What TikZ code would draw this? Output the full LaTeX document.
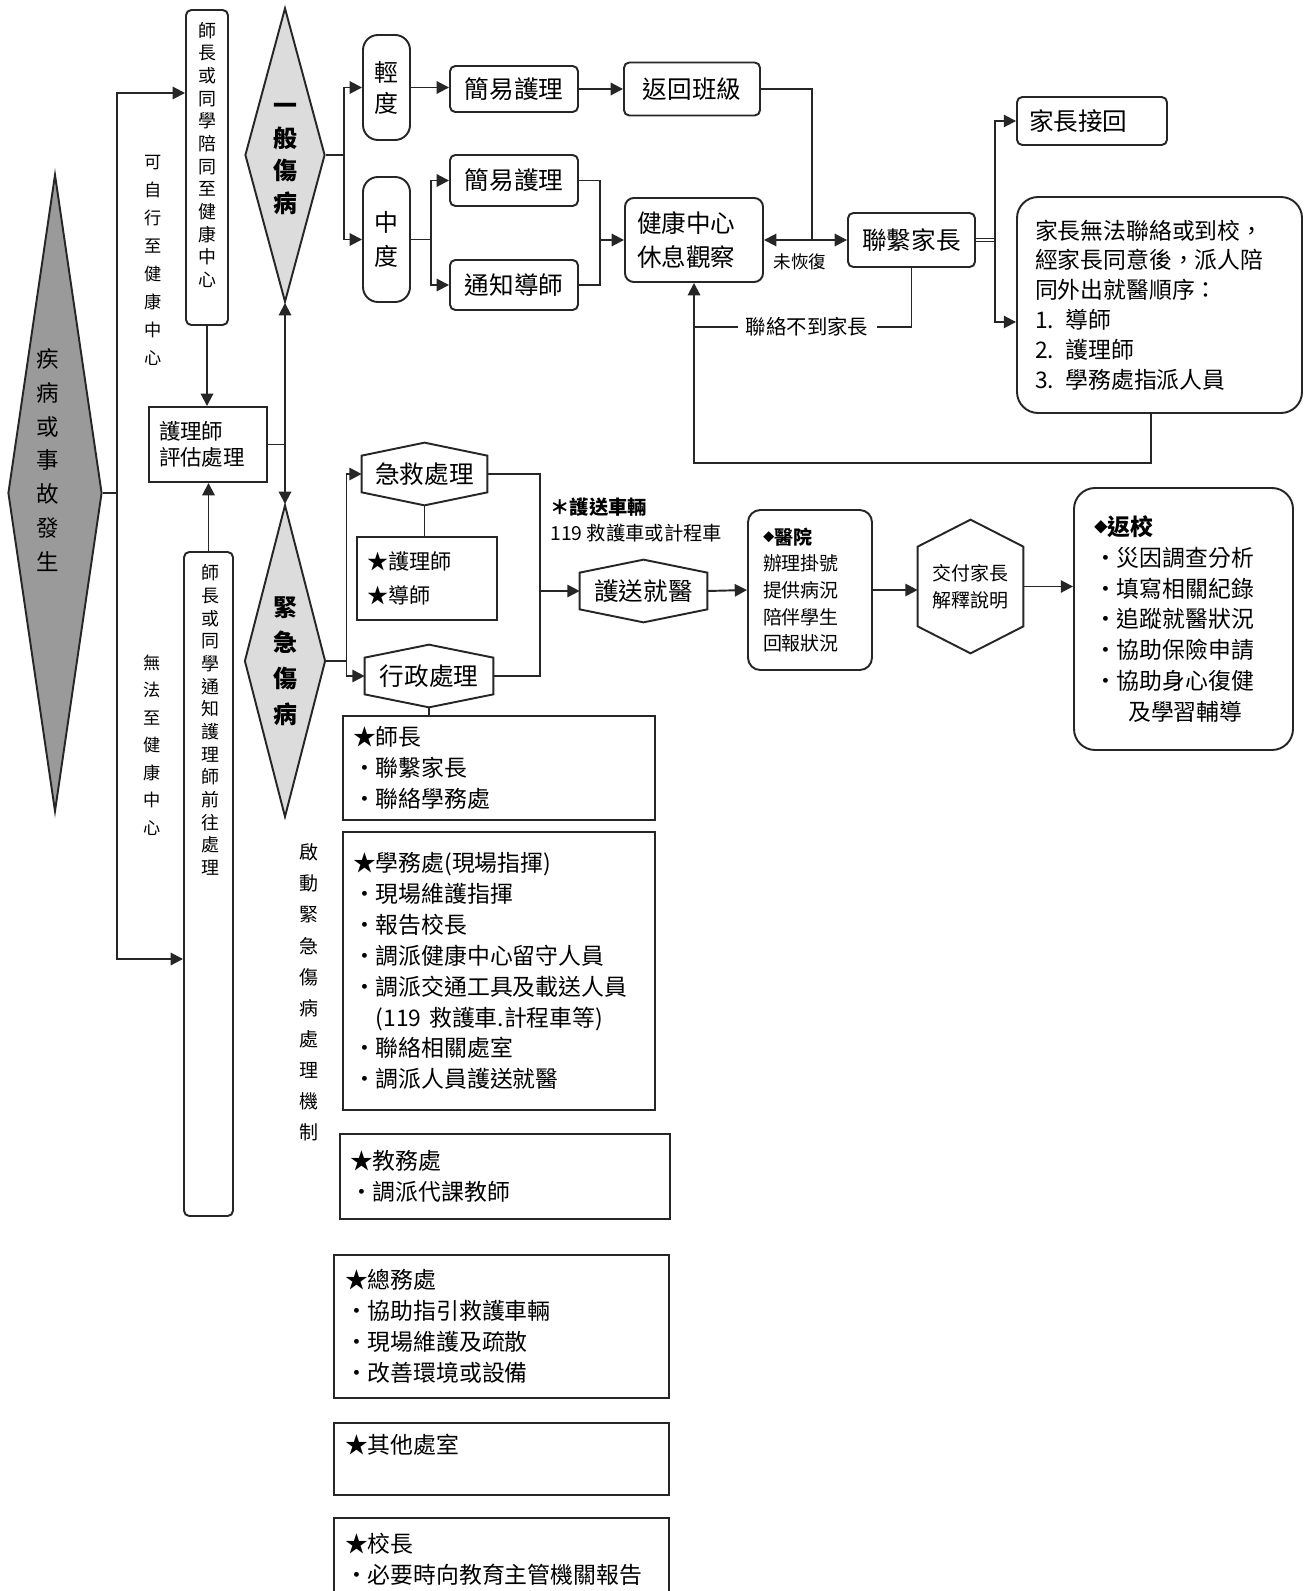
\documentclass[tikz,border=0pt]{standalone}
\usepackage{fontspec}
\usepackage{graphicx}
\setmainfont{Noto Sans CJK TC}
\usetikzlibrary{arrows.meta,shapes.geometric}

\definecolor{dgray}{HTML}{9A9A9A}
\definecolor{lgray}{HTML}{DCDCDC}

\tikzset{
    ln/.style={draw=black!85, line width=1.1pt},
    arr/.style={ln, -{Triangle[length=7pt,width=7pt]}},
    dims/.style 2 args={minimum width=#1*0.02cm, minimum height=#2*0.02cm},
    box/.style={ln, inner sep=0pt, align=center, font=\fontsize{14pt}{17pt}\selectfont},
    rbox/.style={box, rounded corners=3pt},
    pill/.style={box, rounded corners=0.3cm},
    sbox/.style={box, align=left, font=\fontsize{13pt}{17.6pt}\selectfont},
    hexnode/.style={inner sep=0pt, align=center, font=\fontsize{14pt}{17pt}\selectfont},
    diam/.style={ln, shape=diamond, inner sep=0pt},
    vlbl/.style={inner sep=0pt, align=center},
    note/.style={inner sep=0pt, align=center}
}

% small diamond bullet
\newcommand{\dmark}{\raisebox{0.12em}{\scalebox{0.6}{◆}}}

% six-sided frame round a node, #2 = depth of the top and bottom points
\newcommand{\hexframe}[2]{%
  \draw[ln] (#1.north) -- ([yshift=-#2]#1.north east) -- ([yshift=#2]#1.south east)
    -- (#1.south) -- ([yshift=#2]#1.south west) -- ([yshift=-#2]#1.north west) -- cycle;}

\begin{document}
\begin{tikzpicture}[x=0.02cm, y=-0.02cm]
  \useasboundingbox (0,0) rectangle (1307,1591);
  \fill[white] (0,0) rectangle (1307,1591);

  % left column
  \node[diam, fill=dgray, dims={94}{637}] (evt) at (55,493) {};
  \node[vlbl, font=\fontsize{12.8pt}{19.3pt}\selectfont] (evtlbl) at (48,460) {疾\\病\\或\\事\\故\\發\\生};
  \node[rbox, dims={42}{315}] (acc) at (207,167.5) {};
  \node[vlbl, font=\fontsize{10.2pt}{12.9pt}\selectfont] (acclbl) at (207,155) {師\\長\\或\\同\\學\\陪\\同\\至\\健\\康\\中\\心};
  \node[vlbl, font=\fontsize{9.8pt}{15.9pt}\selectfont] (selflbl) at (153,260.5) {可\\自\\行\\至\\健\\康\\中\\心};
  \node[box, dims={118}{75}, text width=1.96cm, align=left, inner xsep=0.2cm,
        font=\fontsize{12.2pt}{14.7pt}\selectfont] (nurse) at (208,444.5) {護理師\\評估處理};
  \node[rbox, dims={49}{664}] (notify) at (208.5,884) {};
  \node[vlbl, font=\fontsize{10.2pt}{12.9pt}\selectfont] (notifylbl) at (210,720) {師\\長\\或\\同\\學\\通\\知\\護\\理\\師\\前\\往\\處\\理};
  \node[vlbl, font=\fontsize{9.8pt}{15.7pt}\selectfont] (cantlbl) at (152,745) {無\\法\\至\\健\\康\\中\\心};

  \node[diam, fill=lgray, dims={80}{294}] (gen) at (285,155) {};
  \node[vlbl, font=\bfseries\fontsize{13.6pt}{18.7pt}\selectfont] (genlbl) at (285,159) {一\\般\\傷\\病};
  \node[diam, fill=lgray, dims={81}{312}] (emg) at (285,661) {};
  \node[vlbl, font=\bfseries\fontsize{13.6pt}{20.4pt}\selectfont] (emglbl) at (285,661) {緊\\急\\傷\\病};

  % general illness
  \node[pill, dims={47}{105}, font=\fontsize{13.6pt}{17.6pt}\selectfont] (mild) at (386.5,87.5) {輕\\度};
  \node[pill, dims={47}{125}, font=\fontsize{13.6pt}{19.8pt}\selectfont] (mod) at (386.5,239.5) {中\\度};
  \node[rbox, dims={128}{46}] (care1) at (514,89) {簡易護理};
  \node[rbox, dims={136}{53}] (back) at (692,89) {返回班級};
  \node[rbox, dims={128}{51}] (care2) at (514,180.5) {簡易護理};
  \node[rbox, dims={128}{50}] (tutor) at (514,285) {通知導師};
  \node[rbox, dims={138}{84}, rounded corners=5pt, text width=2.28cm, align=left, inner xsep=0.24cm,
        font=\fontsize{14pt}{19.8pt}\selectfont] (obs) at (694,240) {健康中心\\休息觀察};
  \node[rbox, dims={127}{54}] (parent) at (911.5,240) {聯繫家長};
  \node[rbox, dims={150}{48}, text width=2.52cm, align=left, inner xsep=0.24cm] (pickup) at (1092,121) {家長接回};
  \node[rbox, dims={285}{216}, rounded corners=12pt, text width=4.98cm, align=left, inner xsep=0.36cm,
        font=\fontsize{13pt}{17pt}\selectfont] (info) at (1159.5,305)
        {家長無法聯絡或到校，\\經家長同意後，派人陪\\同外出就醫順序：\\1. 導師\\2. 護理師\\3. 學務處指派人員};
  \node[note, font=\fontsize{10pt}{12pt}\selectfont] (unrec) at (800,262) {未恢復};
  \node[note, inner xsep=0.16cm, font=\fontsize{11.6pt}{14pt}\selectfont] (nocontact) at (807,327) {聯絡不到家長};

  % emergency
  \node[hexnode, dims={125}{62}] (aid) at (424.5,474) {急救處理};
  \hexframe{aid}{0.26cm}
  \node[box, dims={140}{83}, text width=2.4cm, align=left, inner xsep=0.2cm,
        font=\fontsize{12pt}{19.3pt}\selectfont] (crew) at (427,578.5) {★護理師\\★導師};
  \node[hexnode, dims={128}{62}] (adm) at (429,676) {行政處理};
  \hexframe{adm}{0.26cm}
  \node[hexnode, dims={127}{62}] (escort) at (643.5,591) {護送就醫};
  \hexframe{escort}{0.26cm}
  \node[note, anchor=west, align=left, font=\fontsize{11pt}{14.7pt}\selectfont] (vehicle) at (550,520)
        {\textbf{＊護送車輛}\\119 救護車或計程車};
  \node[rbox, dims={124}{160}, rounded corners=7pt, text width=1.88cm, align=left, inner xsep=0.3cm,
        font=\fontsize{10.8pt}{15.2pt}\selectfont] (hosp) at (810,590)
        {\dmark\textbf{醫院}\\辦理掛號\\提供病況\\陪伴學生\\回報狀況};
  \node[hexnode, dims={105}{133}, font=\fontsize{10.8pt}{15.3pt}\selectfont] (hand) at (970.5,586.5) {交付家長\\解釋說明};
  \hexframe{hand}{0.54cm}
  \node[rbox, dims={219}{262}, rounded corners=12pt, text width=3.58cm, align=left, inner xsep=0.4cm,
        font=\fontsize{13pt}{17.6pt}\selectfont] (ret) at (1183.5,619)
        {\dmark\textbf{返校}\\・災因調查分析\\・填寫相關紀錄\\・追蹤就醫狀況\\・協助保險申請\\・協助身心復健\\\hspace*{1.5em}及學習輔導};

  % offices
  \node[vlbl, font=\fontsize{10.8pt}{17.7pt}\selectfont] (mechlbl) at (309,992.5) {啟\\動\\緊\\急\\傷\\病\\處\\理\\機\\制};
  \node[sbox, dims={312}{104}, text width=5.84cm, inner xsep=0.2cm] (tch) at (499,768) {★師長\\・聯繫家長\\・聯絡學務處};
  \node[sbox, dims={312}{278}, text width=5.84cm, inner xsep=0.2cm] (stu) at (499,971)
        {★學務處(現場指揮)\\・現場維護指揮\\・報告校長\\・調派健康中心留守人員\\・調派交通工具及載送人員\\\hspace*{1em}(119 救護車.計程車等)\\・聯絡相關處室\\・調派人員護送就醫};
  \node[sbox, dims={330}{85}, text width=6.2cm, inner xsep=0.2cm] (edu) at (505,1176.5) {★教務處\\・調派代課教師};
  \node[sbox, dims={335}{143}, text width=6.26cm, inner xsep=0.22cm] (gaf) at (501.5,1326.5)
        {★總務處\\・協助指引救護車輛\\・現場維護及疏散\\・改善環境或設備};
  \node[sbox, dims={335}{72}, text width=6.26cm, inner xsep=0.22cm] (oth) at (501.5,1459) {★其他處室\\\mbox{}};
  \node[sbox, dims={335}{82}, text width=6.26cm, inner xsep=0.22cm] (prn) at (501.5,1559) {★校長\\・必要時向教育主管機關報告};

  % connectors
  \coordinate (trtop) at (117,93);
  \coordinate (trbot) at (117,959);
  \draw[arr] (evt.east) -| (trtop) -- (trtop -| acc.west);
  \draw[arr] (evt.east) -| (trbot) -- (trbot -| notify.west);
  \draw[arr] (acc.south) -- (acc.south |- nurse.north);
  \draw[arr] (notify.north) -- (notify.north |- nurse.south);
  \draw[arr] (nurse.east) -| (gen.south);
  \draw[arr] (nurse.east) -| (emg.north);

  \draw[arr] (gen.east) -- ++(18,0) |- (mild.west);
  \draw[arr] (gen.east) -- ++(18,0) |- (mod.west);
  \draw[arr] (mild.east) -- (mild.east -| care1.west);
  \draw[arr] (care1.east) -- (care1.east -| back.west);
  \draw[arr] (mod.east) -- ++(20,0) |- (care2.west);
  \draw[arr] (mod.east) -- ++(20,0) |- (tutor.west);
  \coordinate (merge) at (600,240);
  \draw[ln] (care2.east) -| (merge);
  \draw[ln] (tutor.east) -| (merge);
  \draw[arr] (merge) -- (obs.west);
  \coordinate (jn) at (812,240);
  \draw[ln] (back.east) -| (jn);
  \draw[arr] (jn) -- (obs.east);
  \draw[arr] (jn) -- (parent.west);
  \coordinate (fork) at (995,240);
  \draw[draw=black!85, line width=0.6pt, double, double distance=1.6pt] (parent.east) -- (fork);
  \draw[arr] (fork) |- (pickup.west);
  \draw[arr] (fork) |- ([yshift=-0.34cm]info.west);
  \draw[ln] (parent.south) |- (nocontact.east);
  \draw[ln] (nocontact.west) -- (nocontact.west -| obs.south);
  \draw[arr] ([xshift=-0.17cm]info.south) -- ++(0,49) -| (obs.south);

  \draw[arr] (emg.east) -- ++(20,0) |- (aid.west);
  \draw[arr] (emg.east) -- ++(20,0) |- (adm.west);
  \draw[ln] (aid.south) -- (aid.south |- crew.north);
  \draw[ln] (adm.south) -- (adm.south |- tch.north);
  \coordinate (join) at (540,591);
  \draw[ln] (aid.east) -| (join);
  \draw[ln] (adm.east) -| (join);
  \draw[arr] (join) -- (escort.west);
  \draw[arr] (escort.east) -- (hosp.west);
  \draw[arr] (hosp.east) -- (hosp.east -| hand.west);
  \draw[arr] (hand.east) -- (hand.east -| ret.west);
\end{tikzpicture}
\end{document}
